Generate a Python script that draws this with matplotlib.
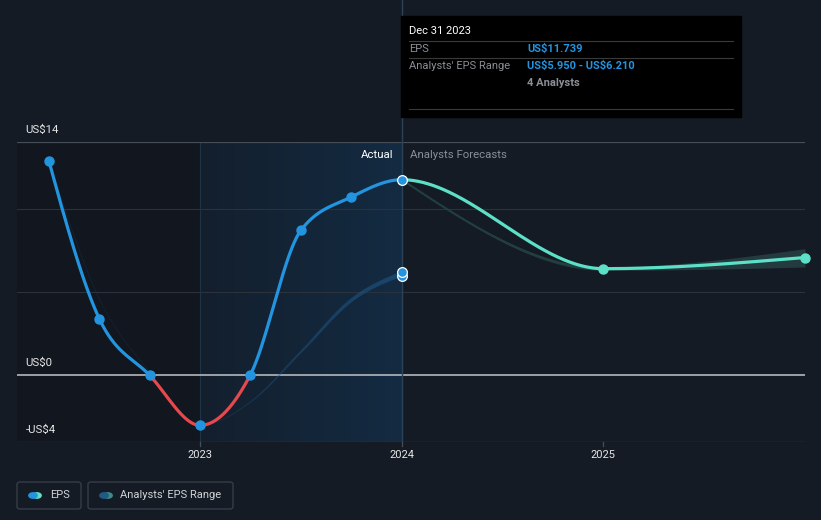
import numpy as np
import matplotlib
matplotlib.use('Agg')
import matplotlib.pyplot as plt
from matplotlib.collections import LineCollection
from matplotlib.patches import FancyBboxPatch, Rectangle, Circle

plt.rcParams['font.family'] = ['Roboto', 'DejaVu Sans']

# actual EPS (quarterly, trailing)
eps_x = [2022.25, 2022.5, 2022.75, 2023.0, 2023.25, 2023.5, 2023.75, 2024.0]
eps_y = [12.87, 3.4, 0.0, -3.0, 0.05, 8.7, 10.7, 11.739]

# past analyst estimates range
rng_x = [2022.25, 2022.5, 2022.75, 2023.0, 2023.25, 2023.5, 2023.75, 2024.0]
rng_lo = [12.87, 4.6, 0.2, -3.0, -1.6, 1.4, 4.5, 5.95]
rng_hi = [12.87, 4.6, 0.2, -3.0, -1.6, 1.4, 4.5, 6.21]

# forecasts
fc_x = [2024.0, 2025.0, 2026.0]
fc_y = [11.739, 6.4, 7.07]
fc_lo = [11.739, 6.3, 6.5]
fc_hi = [11.739, 6.5, 7.6]

yticks = [14, 0, -4]
ytick_labels = ['US\\$14', 'US\\$0', '-US\\$4']
grid_vals = [10, 5]
xticks = [2023, 2024, 2025]

BG = '#151b24'
BLUE = '#2394df'
TEAL = '#5ce0c8'
RED = '#e5484d'


def smooth(xs, ys, n=200):
    # monotone cubic, same rules as d3 curveMonotoneX
    xs = np.asarray(xs, float)
    ys = np.asarray(ys, float)
    h = np.diff(xs)
    d = np.diff(ys) / h
    k = len(xs)
    m = np.zeros(k)
    for i in range(1, k - 1):
        p = (d[i - 1] * h[i] + d[i] * h[i - 1]) / (h[i - 1] + h[i])
        m[i] = (np.sign(d[i - 1]) + np.sign(d[i])) * min(abs(d[i - 1]), abs(d[i]), 0.5 * abs(p))
    if k > 2:
        m[0] = (3 * d[0] - m[1]) / 2
        m[-1] = (3 * d[-1] - m[-2]) / 2
    else:
        m[0] = m[-1] = d[0]
    out_x, out_y = [], []
    for i in range(k - 1):
        t = np.linspace(0, 1, n)
        h00 = 2 * t**3 - 3 * t**2 + 1
        h10 = t**3 - 2 * t**2 + t
        h01 = -2 * t**3 + 3 * t**2
        h11 = t**3 - t**2
        out_x.append(xs[i] + t * h[i])
        out_y.append(h00 * ys[i] + h10 * h[i] * m[i] + h01 * ys[i + 1] + h11 * h[i] * m[i + 1])
    return np.concatenate(out_x), np.concatenate(out_y)


fig = plt.figure(figsize=(8.21, 5.2), dpi=100)
fig.patch.set_facecolor(BG)
ax = fig.add_axes([17 / 821, 78 / 520, 788 / 821, 300 / 520])
ax.set_facecolor(BG)
ax.set_xlim(2022.092, 2026.0)
ax.set_ylim(-4, 14)
for s in ax.spines.values():
    s.set_visible(False)
ax.set_xticks([])
ax.set_yticks([])

# shaded past regions
ax.add_patch(Rectangle((2022.092, -4), 2023 - 2022.092, 18, color='#12161e', zorder=0))
grad = np.linspace(0, 1, 256).reshape(1, -1)
cmap = matplotlib.colors.LinearSegmentedColormap.from_list('g', ['#141f2d', '#132b42'])
ax.imshow(grad, extent=[2023, 2024, -4, 14], aspect='auto', cmap=cmap, zorder=0)
ax.axvline(2023, color='#1d3347', lw=0.8, zorder=1)

# grid
for g in grid_vals:
    ax.axhline(g, color='#2c323b', lw=0.8, zorder=1)
ax.axhline(14, color='#474d56', lw=0.9, zorder=1)
ax.axhline(-4, color='#474d56', lw=0.9, zorder=1)
ax.axhline(0, color='#b5b8bc', lw=1.2, zorder=2)

# range past: line widening toward 2024
rx, rlo = smooth(rng_x, rng_lo)
_, rhi = smooth(rng_x, rng_hi)
rmid = (rlo + rhi) / 2
pts = np.array([rx, rmid]).T.reshape(-1, 1, 2)
segs = np.concatenate([pts[:-1], pts[1:]], axis=1)
frac = np.clip((rx[:-1] - 2023.0) / 1.0, 0, 1)
widths = 0.5 + 3.0 * frac ** 1.5
alphas = 0.25 + 0.55 * frac
cols = [(0.13, 0.36, 0.55, a) for a in alphas]
ax.add_collection(LineCollection(segs, linewidths=widths, colors=cols, zorder=3))

# forecast range band
sx, slo = smooth(fc_x, fc_lo)
_, shi = smooth(fc_x, fc_hi)
ax.fill_between(sx, slo, shi, color='#2a4a4a', alpha=0.7, lw=0, zorder=3)
ax.plot(sx, (slo + shi) / 2, color='#223f40', lw=1.5, zorder=3)

# EPS line drawn through actual + forecast together
all_x = eps_x + fc_x[1:]
all_y = eps_y + fc_y[1:]
cx, cy = smooth(all_x, all_y)
past = cx <= eps_x[-1]
fut = cx >= eps_x[-1]
ax.plot(cx[fut], cy[fut], color=TEAL, lw=2.3, zorder=4, solid_capstyle='round')
ax.plot(fc_x[1:], fc_y[1:], 'o', color=TEAL, ms=6.5, zorder=5, clip_on=False)

ex, ey = cx[past], cy[past]
ax.plot(ex, np.ma.masked_where(ey < -0.05, ey), color=BLUE, lw=2.3, zorder=4, solid_capstyle='round')
ax.plot(ex, np.ma.masked_where(ey > 0.05, ey), color=RED, lw=2.3, zorder=4, solid_capstyle='round')
ax.plot(eps_x[:-1], eps_y[:-1], 'o', color=BLUE, ms=6.5, zorder=6)
ax.plot(eps_x[-1], eps_y[-1], 'o', color=BLUE, mec='white', mew=0.9, ms=7, zorder=6)
ax.plot([rng_x[-1]] * 2, [rng_lo[-1], rng_hi[-1]], 'o', color=BLUE, mec='white', mew=0.9, ms=7, zorder=6)

# vertical marker at 2024 reaching up to tooltip
ax.axvline(2024, color='#2b4258', lw=1, zorder=2)
ax.plot([2024, 2024], [14, 22.5], color='#2b4258', lw=1, clip_on=False, zorder=2)

ax.text(2023.96, 13.25, 'Actual', color='white', fontsize=8.2, ha='right', va='center', zorder=7)
ax.text(2024.04, 13.25, 'Analysts Forecasts', color='#8a8f96', fontsize=8.2, ha='left', va='center', zorder=7)

# axis labels
for v, lab in zip(yticks, ytick_labels):
    ax.text(2022.135, v + 0.75, lab, color='#e6e6e6', fontsize=8.2, ha='left', va='center')
for xt in xticks:
    ax.plot([xt, xt], [-4, -4.25], color='#474d56', lw=0.9, clip_on=False)
    ax.text(xt, -4.8, str(xt), color='#e6e6e6', fontsize=8, ha='center', va='center')


def fx_(p):
    return p / 821


def fy_(p):
    return 1 - p / 520


# tooltip
fig.patches.append(Rectangle((fx_(401), fy_(117)), 340 / 821, 101 / 520,
                             transform=fig.transFigure, color='black', zorder=10))
fig.text(fx_(409), fy_(31), 'Dec 31 2023', color='white', fontsize=8, va='center', zorder=11)
for yy in [41, 58, 109]:
    fig.lines.append(plt.Line2D([fx_(409), fx_(733)], [fy_(yy), fy_(yy)], color='#3a3a3a', lw=0.8,
                                transform=fig.transFigure, zorder=11))
fig.text(fx_(409), fy_(49), 'EPS', color='#8a8f96', fontsize=8, va='center', zorder=11)
fig.text(fx_(527), fy_(49), 'US\\$11.739', color=BLUE, fontsize=8, fontweight='bold', va='center', zorder=11)
fig.text(fx_(409), fy_(66), "Analysts' EPS Range", color='#8a8f96', fontsize=8, va='center', zorder=11)
fig.text(fx_(527), fy_(66), 'US\\$5.950 - US\\$6.210', color=BLUE, fontsize=8, fontweight='bold',
         va='center', zorder=11)
fig.text(fx_(527), fy_(83), '4 Analysts', color='#8a8f96', fontsize=8, fontweight='bold', va='center', zorder=11)


# legend
def legend_box(x0, x1, c1, c2, label, tx):
    fig.patches.append(FancyBboxPatch((fx_(x0), fy_(509)), fx_(x1 - x0), 27 / 520,
                                      boxstyle='round,pad=0,rounding_size=0.004',
                                      transform=fig.transFigure, fc='none', ec='#3a404a', lw=0.9))
    c = x0 + 12
    fig.patches.append(Circle((fx_(c + 8), fy_(495.5)), 4.2 / 821, transform=fig.transFigure, color=c2))
    fig.patches.append(Circle((fx_(c + 4), fy_(495.5)), 4.2 / 821, transform=fig.transFigure, color=c1))
    fig.text(fx_(tx), fy_(495.5), label, color='#d0d3d6', fontsize=8, va='center')


legend_box(17, 81, BLUE, TEAL, 'EPS', 50)
legend_box(88, 233, '#1f5a88', '#3f8a86', "Analysts' EPS Range", 120)

fig.savefig('out.png', dpi=100, facecolor=BG)
